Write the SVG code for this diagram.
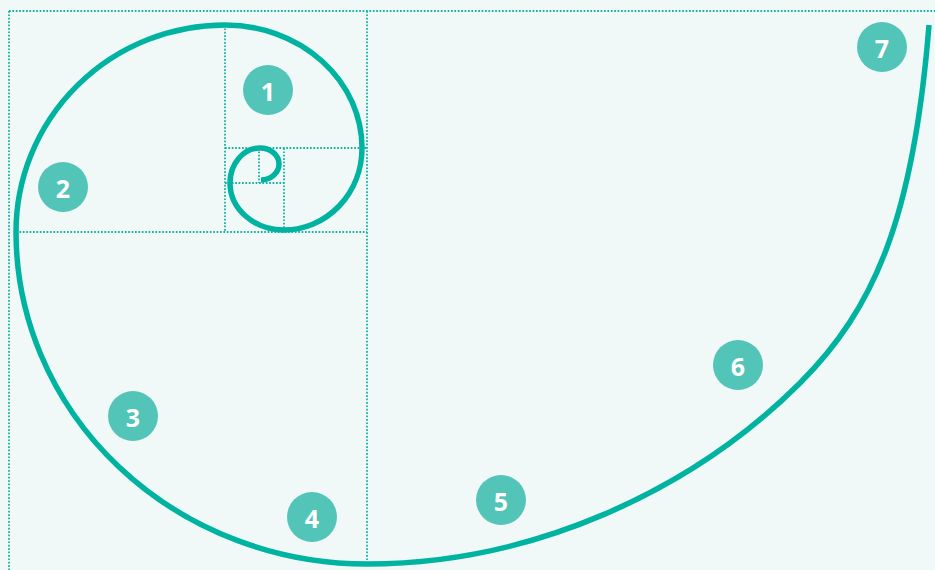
<svg xmlns="http://www.w3.org/2000/svg" width="935" height="570" viewBox="0 0 935 570">
  <style>
    .grid { fill: none; stroke: #14b1a1; stroke-width: 1.8; stroke-dasharray: 1.7 1.7; }
    .spiral { fill: none; stroke: #00b3a1; stroke-width: 5.5; stroke-linecap: butt; stroke-linejoin: round; }
    .badge circle { fill: #52c4b8; }
    .badge text { fill: #ffffff; font-family: "Open Sans", "Liberation Sans", sans-serif; font-weight: 700; font-size: 25px; text-anchor: middle; dominant-baseline: central; }
  </style>
  <rect x="0" y="0" width="935" height="570" fill="#f1f9f8"/>
  <g id="grid">
    <line class="grid" x1="9" y1="11" x2="935" y2="11"/>
    <line class="grid" x1="9" y1="11" x2="9" y2="570"/>
    <line class="grid" x1="367" y1="11" x2="367" y2="564"/>
    <line class="grid" x1="16" y1="232" x2="367" y2="232"/>
    <line class="grid" x1="225" y1="25" x2="225" y2="232"/>
    <line class="grid" x1="225" y1="148" x2="367" y2="148"/>
    <line class="grid" x1="284" y1="148" x2="284" y2="232"/>
    <line class="grid" x1="225" y1="183" x2="284" y2="183"/>
    <line class="grid" x1="259" y1="148" x2="259" y2="183"/>
  </g>
  <g id="connectors">
    <path class="spiral" d="M261,180 A18,16 0 0 0 279,164 A19,16 0 0 0 260,148 A30,35 0 0 0 230,183 A54,47 0 0 0 284,230 A78,82 0 0 0 362,148 A137,123 0 0 0 225,25 A209,207 0 0 0 16,232 A351,332 0 0 0 367,564 C531,564 691,492 800,383 C874,309 913.5,219 929,25"/>
  </g>
  <g id="n1" class="badge"><circle cx="268" cy="90" r="25"/><text x="268" y="91">1</text></g>
  <g id="n2" class="badge"><circle cx="63" cy="187" r="25"/><text x="63" y="188">2</text></g>
  <g id="n3" class="badge"><circle cx="133" cy="416" r="25"/><text x="133" y="417">3</text></g>
  <g id="n4" class="badge"><circle cx="312" cy="517" r="25"/><text x="312" y="518">4</text></g>
  <g id="n5" class="badge"><circle cx="501" cy="500" r="25"/><text x="501" y="501">5</text></g>
  <g id="n6" class="badge"><circle cx="738" cy="365" r="25"/><text x="738" y="366">6</text></g>
  <g id="n7" class="badge"><circle cx="882" cy="47" r="25"/><text x="882" y="48">7</text></g>
</svg>
